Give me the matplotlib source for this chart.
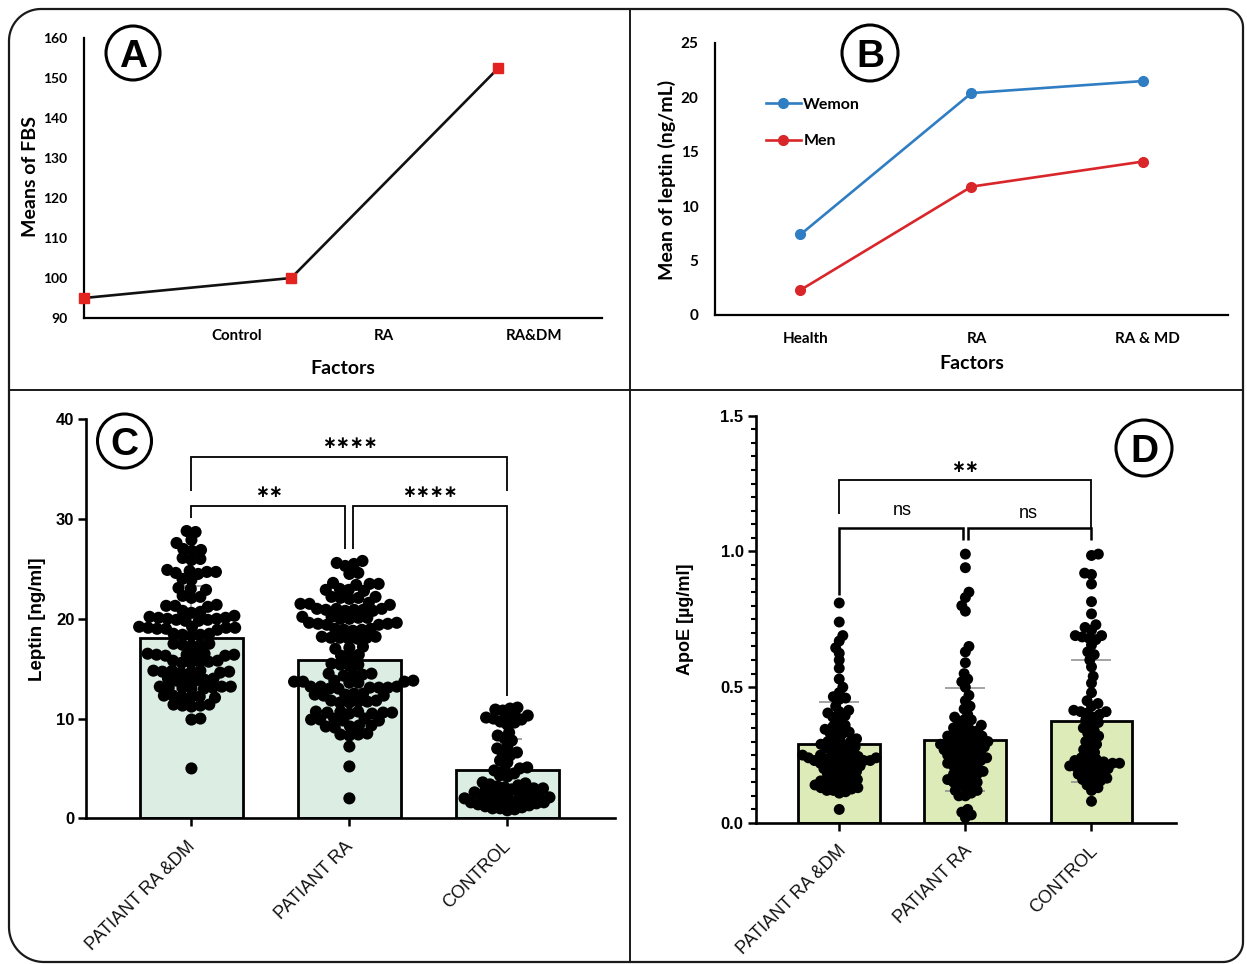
import numpy as np
import matplotlib
matplotlib.use("Agg")
import matplotlib.pyplot as plt
from matplotlib.patches import Circle, PathPatch
from matplotlib.path import Path
from matplotlib.lines import Line2D
from matplotlib.transforms import IdentityTransform, ScaledTranslation
from matplotlib.ticker import MultipleLocator, FormatStrFormatter

# ---------------- data ----------------
fbs_categories = ["Control", "RA", "RA&DM"]
fbs_means = [95, 100, 152.5]

sex_groups = ["Health", "RA", "RA & MD"]
leptin_women = [7.4, 20.4, 21.5]
leptin_men = [2.3, 11.8, 14.1]
sex_labels = ["Wemon", "Men"]

groups_cd = ["PATIANT RA &DM", "PATIANT RA", "CONTROL"]

leptin_means = [18.1, 15.9, 4.8]
leptin_sd = [5.2, 5.1, 3.1]
leptin_ra_dm = [
    28.8, 28.7, 27.9, 27.6, 27.0, 26.8, 26.9, 26.1, 25.9, 26.0,
    24.9, 24.7, 24.6, 24.8, 24.5, 24.7, 24.0, 23.9, 23.1, 23.0, 22.9,
    22.3, 22.2, 22.1, 21.4, 21.3, 21.2, 21.3, 20.8, 20.6, 20.7,
    20.2, 20.0, 19.9, 20.1, 19.8, 20.3, 19.9, 20.0, 19.8, 20.1,
    19.2, 19.1, 19.0, 19.2, 19.1, 18.9, 19.0, 19.1,
    18.5, 18.4, 18.3, 18.4, 18.5, 17.5, 17.4, 17.3, 17.4, 17.5,
    16.5, 16.4, 16.3, 16.5, 16.4, 16.3, 16.4, 16.5,
    15.8, 15.7, 15.6, 15.7, 15.8, 15.6,
    14.8, 14.7, 14.6, 14.7, 14.8, 14.6, 14.7, 14.8,
    14.0, 13.9, 13.8, 13.9, 14.0, 13.8,
    13.2, 13.1, 13.0, 13.1, 13.2, 13.0, 13.1, 13.2,
    12.3, 12.2, 12.1, 12.2, 12.3, 12.1,
    11.4, 11.3, 11.2, 11.3, 11.4, 9.9, 10.0, 5.0]
leptin_ra = [
    25.8, 25.6, 25.5, 25.3, 24.6, 24.5, 23.6, 23.5, 23.4, 23.5,
    22.9, 23.0, 22.8, 22.9, 22.1, 22.2, 22.0, 22.1, 22.2,
    21.5, 21.6, 21.4, 21.5, 20.9, 21.0, 20.8, 20.9, 21.0, 20.8, 20.9, 21.0,
    20.1, 20.2, 20.0, 20.1, 20.2, 20.0, 19.5, 19.6, 19.4, 19.5, 19.6, 19.4,
    18.9, 19.0, 18.8, 18.9, 19.0, 18.1, 18.2, 18.0, 18.1, 18.2, 18.0, 18.1,
    17.1, 17.2, 17.0, 16.3, 16.4, 16.2, 15.4, 15.5, 15.3, 15.4,
    14.4, 14.5, 14.3, 14.4, 14.5, 13.7, 13.8, 13.6, 13.7, 13.8, 13.6, 13.7,
    13.1, 13.2, 13.0, 13.1, 13.2, 13.0, 13.1, 13.2,
    12.4, 12.5, 12.3, 12.4, 12.5, 12.3, 11.7, 11.8, 11.6, 11.7, 11.8, 11.6,
    10.6, 10.7, 10.5, 10.6, 10.7, 10.5, 10.6, 10.7,
    9.9, 10.0, 9.8, 9.9, 10.0, 9.8, 9.2, 9.3, 9.1, 9.2, 9.3,
    8.4, 8.5, 8.3, 8.4, 7.2, 5.2, 2.0]
leptin_control = [
    11.0, 10.9, 10.8, 11.1, 10.3, 10.2, 10.0, 10.1, 10.4, 9.9,
    9.6, 9.4, 9.7, 8.6, 8.3, 8.0, 7.8, 7.2, 7.0, 6.6, 6.3, 6.5,
    5.8, 5.6, 5.1, 5.0, 4.9, 4.8, 4.3, 4.2, 4.5,
    3.6, 3.4, 3.5, 3.3, 3.0, 3.1, 2.9, 3.2, 2.8, 3.0,
    2.5, 2.6, 2.4, 2.7, 2.5, 2.3, 2.6, 2.0, 2.1, 1.9, 2.2, 2.0, 1.8, 2.1, 1.9,
    1.5, 1.6, 1.4, 1.7, 1.5, 1.3, 1.6, 1.0, 1.1, 0.9, 1.2, 1.0, 0.8]
leptin_sig = ["****", "**", "****"]

apoe_means = [0.29, 0.307, 0.375]
apoe_sd = [0.155, 0.19, 0.225]
apoe_ra_dm = [
    0.81, 0.74, 0.69, 0.67, 0.645, 0.625, 0.60, 0.57, 0.53, 0.50, 0.48,
    0.465, 0.46, 0.455, 0.43, 0.415, 0.41, 0.405, 0.395, 0.39, 0.385,
    0.36, 0.355, 0.35, 0.345, 0.335, 0.33, 0.33, 0.325, 0.31, 0.305,
    0.30, 0.30, 0.295, 0.29, 0.285, 0.28, 0.28, 0.275, 0.27, 0.265,
    0.26, 0.255, 0.25, 0.25, 0.245, 0.245, 0.24, 0.24, 0.24, 0.235,
    0.235, 0.23, 0.23, 0.23, 0.225, 0.225, 0.22, 0.22, 0.215, 0.21,
    0.21, 0.205, 0.20, 0.20, 0.195, 0.19, 0.185, 0.18, 0.18, 0.17,
    0.165, 0.16, 0.16, 0.155, 0.15, 0.15, 0.145, 0.14, 0.14, 0.135,
    0.13, 0.13, 0.125, 0.12, 0.12, 0.115, 0.11, 0.05]
apoe_ra = [
    0.99, 0.94, 0.85, 0.83, 0.80, 0.78, 0.65, 0.63, 0.59, 0.55, 0.53,
    0.52, 0.50, 0.47, 0.45, 0.43, 0.42, 0.40, 0.39, 0.38, 0.38, 0.37,
    0.36, 0.36, 0.35, 0.35, 0.34, 0.34, 0.33, 0.33, 0.32, 0.32, 0.31,
    0.31, 0.31, 0.30, 0.30, 0.30, 0.29, 0.29, 0.29, 0.28, 0.28, 0.28,
    0.27, 0.27, 0.27, 0.26, 0.26, 0.25, 0.25, 0.25, 0.24, 0.24, 0.23,
    0.23, 0.23, 0.22, 0.22, 0.21, 0.21, 0.20, 0.20, 0.19, 0.19, 0.18,
    0.18, 0.17, 0.17, 0.16, 0.16, 0.15, 0.15, 0.14, 0.14, 0.13, 0.12,
    0.12, 0.11, 0.10, 0.10, 0.05, 0.04, 0.03, 0.02]
apoe_control = [
    0.99, 0.985, 0.92, 0.915, 0.88, 0.815, 0.77, 0.73, 0.72, 0.71,
    0.69, 0.685, 0.68, 0.69, 0.675, 0.655, 0.63, 0.62, 0.60, 0.575,
    0.54, 0.515, 0.48, 0.45, 0.44, 0.43, 0.415, 0.41, 0.41, 0.405,
    0.40, 0.39, 0.38, 0.37, 0.365, 0.35, 0.34, 0.33, 0.32, 0.31, 0.30,
    0.29, 0.28, 0.27, 0.26, 0.25, 0.24, 0.235, 0.23, 0.225, 0.225,
    0.22, 0.22, 0.215, 0.21, 0.21, 0.205, 0.20, 0.20, 0.19, 0.185,
    0.18, 0.175, 0.17, 0.165, 0.16, 0.155, 0.15, 0.14, 0.13, 0.12, 0.08]
apoe_sig = ["**", "ns", "ns"]

# ---------------- figure ----------------
W, H = 1247, 964
fig = plt.figure(figsize=(W / 100, H / 100), dpi=100)
fig.patch.set_facecolor("white")


def add_ax(left, top, right, bottom):
    return fig.add_axes([left / W, 1 - bottom / H, (right - left) / W, (bottom - top) / H])


def arc(cx, cy, r, a0, a1, n=24):
    t = np.radians(np.linspace(a0, a1, n))
    return np.column_stack([cx + r * np.cos(t), cy + r * np.sin(t)])


# outer rounded frame + dividers (pixel coordinates, y down)
L, R, T, B = 9, 1243, 9, 962
rtl, rtr, rbl, rbr = 32, 18, 35, 20
pts = np.vstack([
    arc(R - rtr, T + rtr, rtr, -90, 0),
    arc(R - rbr, B - rbr, rbr, 0, 90),
    arc(L + rbl, B - rbl, rbl, 90, 180),
    arc(L + rtl, T + rtl, rtl, 180, 270),
])
pts = np.vstack([pts, pts[:1]])
pts[:, 1] = H - pts[:, 1]
fig.add_artist(PathPatch(Path(pts), fill=False, lw=1.6, ec="#1a1a1a",
                         transform=IdentityTransform()))
fig.add_artist(Line2D([L / W, R / W], [1 - 390 / H, 1 - 390 / H], lw=1.4,
                      color="#1a1a1a", transform=fig.transFigure))
fig.add_artist(Line2D([630 / W, 630 / W], [1 - T / H, 1 - B / H], lw=1.4,
                      color="#1a1a1a", transform=fig.transFigure))


def badge(cx, cy, r, letter):
    fig.add_artist(Circle((cx / 100, (H - cy) / 100), r / 100, fill=False, lw=2.2,
                          ec="black", transform=fig.dpi_scale_trans))
    fig.text(cx / W, 1 - cy / H, letter, ha="center", va="center_baseline",
             fontsize=28, fontweight="bold", family="Liberation Sans")


LATO = dict(family="Lato", fontweight="bold")

# ---------------- Panel A ----------------
axA = add_ax(84, 38, 602, 318)
axA.plot(range(len(fbs_means)), fbs_means, color="#111111", lw=1.9, zorder=2, clip_on=False)
axA.plot(range(len(fbs_means)), fbs_means, ls="none", marker="s", ms=7.5,
         color="#E3231F", zorder=3, clip_on=False)
axA.set_xlim(0, 2.5)
axA.set_ylim(90, 160)
axA.set_yticks(np.arange(90, 161, 10))
axA.set_xticks([0.737, 1.446, 2.173])
axA.set_xticklabels(fbs_categories)
for s in ["top", "right"]:
    axA.spines[s].set_visible(False)
for s in ["left", "bottom"]:
    axA.spines[s].set_linewidth(1.6)
axA.tick_params(axis="both", length=0)
axA.tick_params(axis="y", pad=12)
axA.tick_params(axis="x", pad=8)
for lab in axA.get_yticklabels():
    lab.set(fontsize=10, **LATO)
for lab in axA.get_xticklabels():
    lab.set(fontsize=10.8, **LATO)
axA.set_ylabel("Means of FBS", fontsize=14, ha="center", va="center", **LATO)
axA.yaxis.set_label_coords(-0.104, 0.504)
axA.set_xlabel("Factors", fontsize=14, ha="center", va="center", **LATO)
axA.xaxis.set_label_coords(0.5, -0.179)
axA.patch.set_alpha(0)
badge(133, 53, 27, "A")

# ---------------- Panel B ----------------
axB = add_ax(715, 43, 1228, 315)
blue, red = "#2F7DC3", "#D9262A"
axB.plot(range(3), leptin_women, color=blue, lw=1.9, marker="o", ms=7, label=sex_labels[0])
axB.plot(range(3), leptin_men, color=red, lw=1.9, marker="o", ms=7, label=sex_labels[1])
axB.set_xlim(-0.5, 2.5)
axB.set_ylim(0, 25)
axB.set_yticks(np.arange(0, 26, 5))
axB.set_xticks([0.03, 1.03, 2.03])
axB.set_xticklabels(sex_groups)
for s in ["top", "right"]:
    axB.spines[s].set_visible(False)
for s in ["left", "bottom"]:
    axB.spines[s].set_linewidth(1.6)
axB.tick_params(axis="both", length=0)
axB.tick_params(axis="y", pad=12)
axB.tick_params(axis="x", pad=12)
for lab in axB.get_yticklabels() + axB.get_xticklabels():
    lab.set(fontsize=11, **LATO)
axB.set_ylabel("Mean of leptin (ng/mL)", fontsize=14, ha="center", va="center", **LATO)
axB.yaxis.set_label_coords(-0.094, 0.496)
axB.set_xlabel("Factors", fontsize=14, ha="center", va="center", **LATO)
axB.xaxis.set_label_coords(0.501, -0.18)
leg = axB.legend(loc="upper left", bbox_to_anchor=(0.099, 0.80), frameon=False,
                 handlelength=2.2, handletextpad=0.15, labelspacing=1.42,
                 borderpad=0, borderaxespad=0,
                 prop=dict(family="Lato", weight="bold", size=11.5))
badge(870, 53, 28, "B")


# ---------------- swarm helper ----------------
def swarm_offsets(ax, xc, values, min_dist):
    vals = np.asarray(values, float)
    disp = ax.transData.transform(np.column_stack([np.full(len(vals), xc), vals]))
    ys = disp[:, 1]
    ppu = ax.transData.transform((xc + 1, 0))[0] - ax.transData.transform((xc, 0))[0]
    order = np.argsort(ys, kind="stable")
    placed = []
    offs = np.zeros(len(vals))
    side = 1
    for i in order:
        y = ys[i]
        ivs = []
        for px, py in placed:
            dy = y - py
            if abs(dy) < min_dist:
                dx = np.sqrt(min_dist ** 2 - dy ** 2)
                ivs.append((px - dx, px + dx))
        cands = [0.0] + [a for a, b in ivs] + [b for a, b in ivs]
        cands.sort(key=lambda c: (round(abs(c), 3), -side * np.sign(c)))
        chosen = 0.0
        for c in cands:
            if all(not (a + 1e-6 < c < b - 1e-6) for a, b in ivs):
                chosen = c
                break
        if chosen != 0:
            side = -side
        placed.append((chosen, y))
        offs[i] = chosen / ppu
    return offs


def bar_swarm_panel(ax, means, sds, samples, fill, dot_s, min_dists, capsize):
    x = np.arange(len(means))
    ax.bar(x, means, width=0.65, color=fill, edgecolor="black", lw=2.0, zorder=1)
    ax.errorbar(x, means, yerr=sds, fmt="none", ecolor="#8a8a8a", elinewidth=1.1,
                capsize=capsize, capthick=1.1, zorder=2)
    for xi, vals, md in zip(x, samples, min_dists):
        offs = swarm_offsets(ax, xi, vals, md)
        ax.scatter(xi + offs, vals, s=dot_s, color="black", edgecolors="none",
                   zorder=3, clip_on=False)


def bracket(ax, x0, x1, y, y0_end, y1_end, lw=1.3):
    ax.plot([x0, x0, x1, x1], [y0_end, y, y, y1_end], color="black", lw=lw,
            solid_joinstyle="miter", solid_capstyle="butt", clip_on=False, zorder=4)


def style_cd(ax):
    for s in ["top", "right"]:
        ax.spines[s].set_visible(False)
    for s in ["left", "bottom"]:
        ax.spines[s].set_linewidth(1.9)
    ax.tick_params(axis="both", which="major", direction="out", length=6, width=1.8)
    ax.patch.set_alpha(0)


def shift_xlabels(ax, dx_px, dy_px):
    off = ScaledTranslation(dx_px / 100, dy_px / 100, fig.dpi_scale_trans)
    for lab in ax.get_xticklabels():
        lab.set_transform(lab.get_transform() + off)


STAR = dict(family="DejaVu Sans", fontsize=12, fontweight="bold", ha="center", va="center")

# ---------------- Panel C ----------------
axC = add_ax(85.6, 419.3, 614.7, 818.3)
axC.set_xlim(-0.67, 2.68)
axC.set_ylim(0, 40)
style_cd(axC)
bar_swarm_panel(axC, leptin_means, leptin_sd, [leptin_ra_dm, leptin_ra, leptin_control],
                "#DCEEE4", 76, [9.0, 9.0, 7.5], 10.8)
axC.set_yticks([0, 10, 20, 30, 40])
axC.tick_params(axis="y", pad=2)
axC.tick_params(axis="x", pad=11)
axC.set_xticks(range(3))
axC.set_xticklabels(groups_cd, rotation=45, ha="right", va="top", rotation_mode="anchor",
                    fontsize=13, family="Liberation Sans", color="#111111")
shift_xlabels(axC, -5, 4)
for lab in axC.get_yticklabels():
    lab.set(fontsize=12, fontweight="bold", family="Liberation Sans")
axC.set_ylabel("Leptin [ng/ml]", fontsize=13.5, fontweight="bold", family="Liberation Sans",
               ha="center", va="center")
axC.yaxis.set_label_coords(-0.09, 0.498)
bracket(axC, 0, 2, 36.2, 32.8, 32.8)
bracket(axC, 0, 0.97, 31.3, 30.1, 27.0)
bracket(axC, 1.02, 2, 31.3, 27.0, 12.3)
axC.text(1.0, 37.6, leptin_sig[0].replace("*", "\u2217"), **STAR)
axC.text(0.49, 32.7, leptin_sig[1].replace("*", "\u2217"), **STAR)
axC.text(1.51, 32.7, leptin_sig[2].replace("*", "\u2217"), **STAR)
badge(124.5, 441, 27, "C")

# ---------------- Panel D ----------------
axD = add_ax(756, 415.6, 1176, 823)
axD.set_xlim(-0.66, 2.67)
axD.set_ylim(0, 1.5)
style_cd(axD)
bar_swarm_panel(axD, apoe_means, apoe_sd, [apoe_ra_dm, apoe_ra, apoe_control],
                "#DDEBB8", 62, [6.5, 6.5, 7.0], 14.7)
axD.set_yticks([0, 0.5, 1.0, 1.5])
axD.yaxis.set_major_formatter(FormatStrFormatter("%.1f"))
axD.yaxis.set_minor_locator(MultipleLocator(0.05))
axD.tick_params(axis="y", which="minor", direction="out", length=3.5, width=1.5)
axD.tick_params(axis="y", pad=3)
axD.tick_params(axis="x", pad=10)
axD.set_xticks(range(3))
axD.set_xticklabels(groups_cd, rotation=45, ha="right", va="top", rotation_mode="anchor",
                    fontsize=13, family="Liberation Sans", color="#111111")
shift_xlabels(axD, -2, 3)
for lab in axD.get_yticklabels():
    lab.set(fontsize=12, fontweight="bold", family="Liberation Sans")
axD.set_ylabel("ApoE [\u00b5g/ml]", fontsize=13, fontweight="bold", family="Liberation Sans",
               ha="center", va="center")
axD.yaxis.set_label_coords(-0.169, 0.501)
bracket(axD, 0, 2, 1.264, 1.136, 1.082)
bracket(axD, 0, 0.98, 1.085, 0.84, 1.042, lw=1.8)
bracket(axD, 1.02, 2, 1.085, 1.042, 1.042, lw=1.8)
axD.text(1.0, 1.31, apoe_sig[0].replace("*", "\u2217"), **STAR)
axD.text(0.5, 1.15, apoe_sig[1], family="Liberation Sans", fontsize=13, ha="center", va="center")
axD.text(1.5, 1.14, apoe_sig[2], family="Liberation Sans", fontsize=13, ha="center", va="center")
badge(1144, 448, 28, "D")

fig.savefig("out.png", dpi=100, facecolor="white")
